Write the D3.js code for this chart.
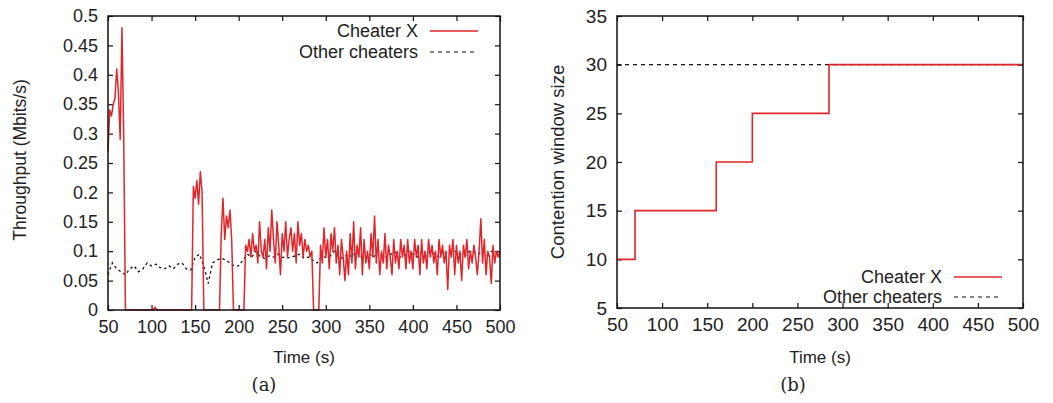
<!DOCTYPE html>
<html>
<head>
<meta charset="utf-8">
<script src="https://cdn.jsdelivr.net/npm/d3@7"></script>
<style>
  body { margin: 0; background: #fff; }
  svg text { font-family: "Liberation Sans", Arial, sans-serif; fill: #222; }
  .caption { font-family: "DejaVu Serif", "Liberation Serif", serif; }
</style>
</head>
<body>
<div id="chart"></div>
<script>
// panel (a): throughput, sampled every 2 s from 50 to 500
var cheaterStart = 50, cheaterStep = 2;
var cheaterThroughput = [
  0.27,0.34,0.33,0.35,0.36,0.41,0.37,0.29,0.48,0.30,
  0,0,0,0,0,0,0,0,0,0,
  0,0,0,0,0,0,0,0.005,0,0,
  0,0,0,0,0,0,0,0,0,0,
  0,0,0,0,0,0,0,0,0,0.21,
  0.19,0.22,0.18,0.235,0.2,0,0,0,0,0,
  0,0,0,0,0,0.13,0.19,0.12,0.16,0.14,
  0.17,0.12,0,0,0,0,0,0,0,0.11,
  0.10,0.12,0.09,0.13,0.10,0.11,0.08,0.15,0.10,0.09,
  0.12,0.07,0.14,0.10,0.17,0.12,0.08,0.15,0.11,0.06,
  0.13,0.10,0.15,0.09,0.12,0.14,0.10,0.13,0.08,0.15,
  0.11,0.13,0.09,0.12,0.10,0.11,0.09,0.10,0,0,
  0,0,0.11,0.08,0.14,0.09,0.12,0.07,0.13,0.10,
  0.14,0.08,0.11,0.06,0.12,0.09,0.05,0.10,0.06,0.13,
  0.08,0.15,0.07,0.11,0.09,0.14,0.06,0.12,0.08,0.10,
  0.07,0.13,0.09,0.16,0.08,0.12,0.06,0.10,0.08,0.13,
  0.07,0.11,0.09,0.06,0.12,0.08,0.10,0.07,0.12,0.09,
  0.11,0.07,0.12,0.08,0.10,0.07,0.12,0.09,0.11,0.06,
  0.12,0.08,0.10,0.07,0.12,0.09,0.11,0.08,0.10,0.06,
  0.12,0.09,0.11,0.08,0.10,0.035,0.11,0.09,0.12,0.06,
  0.11,0.08,0.10,0.05,0.11,0.09,0.12,0.07,0.10,0.08,
  0.11,0.09,0.06,0.10,0.155,0.08,0.12,0.06,0.10,0.09,
  0.045,0.11,0.08,0.10,0.09,0.10
];

// other cheaters, every 5 s
var otherStart = 50, otherStep = 5;
var otherThroughput = [
  0.06,0.08,0.07,0.065,0.06,0.07,0.075,0.065,0.07,0.08,
  0.075,0.078,0.072,0.07,0.075,0.07,0.078,0.08,0.07,0.068,
  0.09,0.095,0.075,0.045,0.08,0.085,0.088,0.085,0.08,0.075,
  0.075,0.085,0.095,0.09,0.1,0.09,0.088,0.092,0.09,0.095,
  0.09,0.088,0.09,0.092,0.095,0.088,0.09,0.085,0.08,0.09,
  0.09,0.092,0.1,0.09,0.088,0.095,0.09,0.1,0.092,0.088,
  0.095,0.09,0.1,0.092,0.09,0.095,0.098,0.09,0.092,0.1,
  0.095,0.09,0.098,0.092,0.1,0.095,0.09,0.1,0.095,0.098,
  0.1,0.095,0.092,0.1,0.098,0.095,0.1,0.093,0.1,0.097,
  0.1
];

// panel (b): contention window (step changes)
var cwTimes = [50, 70, 160, 200, 285, 500];
var cwCheater = [10, 15, 20, 25, 30, 30];
var cwOtherTimes = [50, 500];
var cwOther = [30, 30];

var timeTicks = [50,100,150,200,250,300,350,400,450,500];
var throughputTicks = [0,0.05,0.1,0.15,0.2,0.25,0.3,0.35,0.4,0.45,0.5];
var cwTicks = [5,10,15,20,25,30,35];
var legendLabels = ["Cheater X", "Other cheaters"];

var red = "#e0262b";

var svg = d3.select("#chart").append("svg")
  .attr("width", 1053)
  .attr("height", 403);

function drawFrame(g, x, y, w, h, yTicks, yFmt, fs) {
  g.append("g")
    .attr("transform", `translate(0,${h})`)
    .call(d3.axisBottom(x).tickValues(timeTicks).tickSize(-5).tickPadding(10).tickFormat(d3.format("d")))
    .call(a => a.select(".domain").remove())
    .call(a => a.selectAll("text").style("font-size", fs + "px"));
  g.append("g")
    .call(d3.axisTop(x).tickValues(timeTicks).tickSize(-5).tickFormat(""))
    .call(a => a.select(".domain").remove());
  g.append("g")
    .call(d3.axisLeft(y).tickValues(yTicks).tickSize(-5).tickPadding(10).tickFormat(yFmt))
    .call(a => a.select(".domain").remove())
    .call(a => a.selectAll("text").style("font-size", fs + "px"));
  g.append("g")
    .attr("transform", `translate(${w},0)`)
    .call(d3.axisRight(y).tickValues(yTicks).tickSize(-5).tickFormat(""))
    .call(a => a.select(".domain").remove());
  g.selectAll(".tick line").attr("stroke", "#111").attr("stroke-width", 1.2);
}

function drawBorder(g, w, h) {
  g.append("rect")
    .attr("width", w).attr("height", h)
    .attr("fill", "none").attr("stroke", "#111").attr("stroke-width", 1.5);
}

function drawLegend(g, xText, yFirst, gap) {
  legendLabels.forEach(function(lbl, i) {
    var yy = yFirst + i * gap;
    g.append("text")
      .attr("x", xText).attr("y", yy + 6)
      .attr("text-anchor", "end")
      .style("font-size", "18px")
      .text(lbl);
    g.append("line")
      .attr("x1", xText + 12).attr("x2", xText + 60)
      .attr("y1", yy).attr("y2", yy)
      .attr("stroke", i == 0 ? red : "#111")
      .attr("stroke-width", i == 0 ? 1.6 : 1.2)
      .attr("stroke-dasharray", i == 0 ? null : "4,4");
  });
}

// ---------- panel (a) ----------
var aLeft = 108, aTop = 16, aW = 392, aH = 294;
var gA = svg.append("g").attr("transform", `translate(${aLeft},${aTop})`);
var xA = d3.scaleLinear().domain([50, 500]).range([0, aW]);
var yA = d3.scaleLinear().domain([0, 0.5]).range([aH, 0]);

drawFrame(gA, xA, yA, aW, aH, throughputTicks, d => String(+d.toFixed(2)), 18);

var cheaterData = cheaterThroughput.map((v, i) => ({t: cheaterStart + i * cheaterStep, v: v}));
var otherData = otherThroughput.map((v, i) => ({t: otherStart + i * otherStep, v: v}));

var lineA = d3.line().x(d => xA(d.t)).y(d => yA(d.v));

gA.append("path")
  .datum(otherData)
  .attr("d", lineA)
  .attr("fill", "none")
  .attr("stroke", "#111")
  .attr("stroke-width", 1.3)
  .attr("stroke-dasharray", "2.5,3");

gA.append("path")
  .datum(cheaterData)
  .attr("d", lineA)
  .attr("fill", "none")
  .attr("stroke", red)
  .attr("stroke-width", 1.5)
  .attr("stroke-linejoin", "round");

drawBorder(gA, aW, aH);
drawLegend(svg, 418, 31, 21);

svg.append("text")
  .attr("transform", `translate(20,160) rotate(-90)`)
  .attr("dy", "0.35em")
  .attr("text-anchor", "middle")
  .style("font-size", "17.5px")
  .text("Throughput (Mbits/s)");

svg.append("text")
  .attr("x", 304).attr("y", 363)
  .attr("text-anchor", "middle")
  .style("font-size", "17px")
  .text("Time (s)");

svg.append("text")
  .attr("class", "caption")
  .attr("x", 264).attr("y", 391)
  .attr("text-anchor", "middle")
  .style("font-size", "18px")
  .text("(a)");

// ---------- panel (b) ----------
var bLeft = 617, bTop = 16, bW = 406, bH = 292;
var gB = svg.append("g").attr("transform", `translate(${bLeft},${bTop})`);
var xB = d3.scaleLinear().domain([50, 500]).range([0, bW]);
var yB = d3.scaleLinear().domain([5, 35]).range([bH, 0]);

drawFrame(gB, xB, yB, bW, bH, cwTicks, d3.format("d"), 19);

var lineB = d3.line().x(d => xB(d[0])).y(d => yB(d[1])).curve(d3.curveStepAfter);

gB.append("path")
  .datum(d3.zip(cwOtherTimes, cwOther))
  .attr("d", lineB)
  .attr("fill", "none")
  .attr("stroke", "#111")
  .attr("stroke-width", 1.4)
  .attr("stroke-dasharray", "4,4");

gB.append("path")
  .datum(d3.zip(cwTimes, cwCheater))
  .attr("d", lineB)
  .attr("fill", "none")
  .attr("stroke", red)
  .attr("stroke-width", 1.6);

drawBorder(gB, bW, bH);
drawLegend(svg, 942, 277, 20);

svg.append("text")
  .attr("transform", `translate(558,162) rotate(-90)`)
  .attr("dy", "0.35em")
  .attr("text-anchor", "middle")
  .style("font-size", "18.5px")
  .text("Contention window size");

svg.append("text")
  .attr("x", 820).attr("y", 363)
  .attr("text-anchor", "middle")
  .style("font-size", "17px")
  .text("Time (s)");

svg.append("text")
  .attr("class", "caption")
  .attr("x", 793).attr("y", 391)
  .attr("text-anchor", "middle")
  .style("font-size", "18px")
  .text("(b)");
</script>
</body>
</html>
